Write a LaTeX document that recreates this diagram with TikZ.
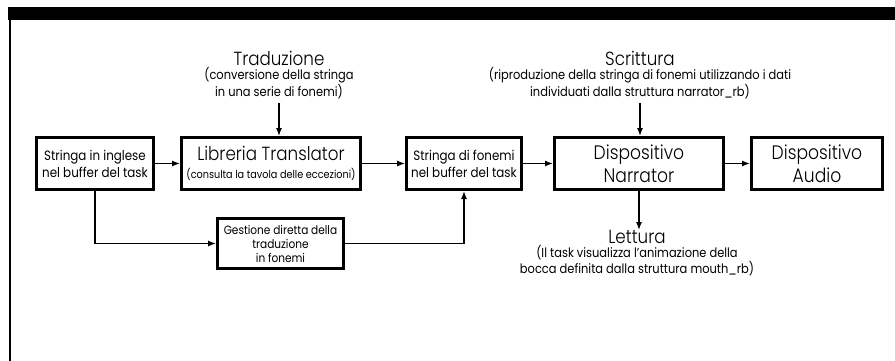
\documentclass[tikz,border=0pt]{standalone}
\usepackage{fontspec}
\setmainfont{Poppins}[FakeStretch=0.88]
\newfontfamily\thinfont{Poppins Light}[FakeStretch=0.88]
\usepackage{tikz}
\usetikzlibrary{arrows.meta,positioning}

\begin{document}
\begin{tikzpicture}[x=1pt,y=-1pt,
  box/.style={draw,line width=2.6pt,minimum height=52.4pt,inner sep=0pt,align=center,font=\fontsize{13.5}{17}\selectfont},
  note/.style={align=center,inner sep=0pt,font=\fontsize{13}{14}\selectfont},
  link/.style={line width=1.2pt,-{Latex[length=8pt,width=6pt]}}]
\useasboundingbox (0,0) rectangle (895,361);
\fill (8,7) rectangle (895,20);
\draw[line width=1.6pt] (10,20) -- (10,361);

\node[box,minimum width=117.4pt] (eng) at (95,163.5) {Stringa in inglese\\nel buffer del task};
\node[box,minimum width=179.4pt] (lib) at (271,163.5) {{\thinfont\fontsize{19}{20}\selectfont Libreria Translator}\\[1pt]{\fontsize{11}{12}\selectfont (consulta la tavola delle eccezioni)}};
\node[box,minimum width=115.4pt] (fon) at (464,163.5) {Stringa di fonemi\\nel buffer del task};
\node[box,minimum width=169.4pt,font=\thinfont\fontsize{19.5}{23}\selectfont] (narr) at (639,163.5) {Dispositivo\\Narrator};
\node[box,minimum width=131.4pt,font=\thinfont\fontsize{19.5}{23}\selectfont] (audio) at (817,163.5) {Dispositivo\\Audio};
\node[box,minimum width=126.4pt,minimum height=50.4pt,font=\fontsize{12}{14}\selectfont] (gest) at (280.5,243.5) {Gestione diretta della\\traduzione\\in fonemi};

\node[note,anchor=south] (trad) at (279,99) {{\thinfont\fontsize{19}{20}\selectfont Traduzione}\\(conversione della stringa\\in una serie di fonemi)};
\node[note,anchor=south] (scri) at (640,99) {{\thinfont\fontsize{19}{20}\selectfont Scrittura}\\(riproduzione della stringa di fonemi utilizzando i dati\\individuati dalla struttura narrator\_rb)};
\node[note,anchor=north] (lett) at (637,230) {{\thinfont\fontsize{19}{20}\selectfont Lettura}\\(Il task visualizza l'animazione della\\bocca definita dalla struttura mouth\_rb)};

\draw[link] (eng) -- (lib);
\draw[link] (lib) -- (fon);
\draw[link] (fon) -- (narr);
\draw[link] (narr) -- (audio);
\draw[link] (trad.south) ++(0,4) -- (trad.south |- lib.north);
\draw[link] (scri.south) ++(0,4) -- (scri.south |- narr.north);
\draw[link] (narr.south) -- (narr.south |- lett.north);
\draw[link] (eng.south) |- (gest.west);
\draw[link] (gest.east) -| (fon.south);
\end{tikzpicture}
\end{document}
